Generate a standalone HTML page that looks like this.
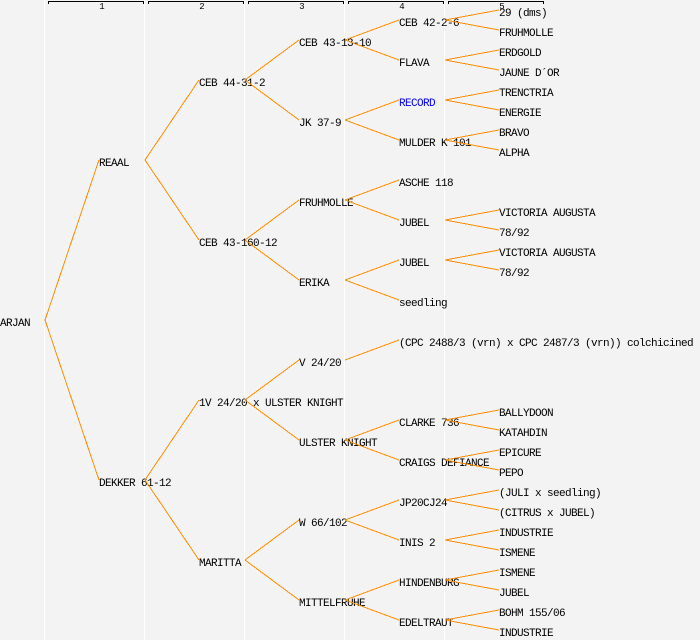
<!DOCTYPE html>
<html><head><meta charset="utf-8"><style>
html,body{margin:0;padding:0;background:#f3f3f3;}
svg{display:block;}
text{font-family:"Liberation Mono","DejaVu Sans Mono",monospace;font-size:11px;letter-spacing:-0.6px;fill:#000;}
text.n{font-size:9px;letter-spacing:0;}
</style></head><body>
<svg width="700" height="640" viewBox="0 0 700 640" xmlns="http://www.w3.org/2000/svg">
<rect x="0" y="0" width="700" height="640" fill="#f3f3f3"/>
<g fill="#ffffff">
<rect x="44" y="0" width="1" height="640"/>
<rect x="144" y="0" width="1" height="640"/>
<rect x="244" y="0" width="1" height="640"/>
<rect x="344" y="0" width="1" height="640"/>
<rect x="444" y="0" width="1" height="640"/>
</g>
<g stroke="#000" stroke-width="1" fill="none" shape-rendering="crispEdges">
<path d="M48.5 4V1.5H143.5V4"/>
<path d="M148.5 4V1.5H243.5V4"/>
<path d="M248.5 4V1.5H343.5V4"/>
<path d="M348.5 4V1.5H443.5V4"/>
<path d="M448.5 4V1.5H543.5V4"/>
</g>
<g text-anchor="middle">
<text class="n" x="102" y="9">1</text>
<text class="n" x="202" y="9">2</text>
<text class="n" x="302" y="9">3</text>
<text class="n" x="402" y="9">4</text>
<text class="n" x="502" y="9">5</text>
</g>

<!-- gen 0 -->
<text x="0" y="326">ARJAN</text>
<!-- gen 1 -->
<text x="99" y="166">REAAL</text>
<text x="99" y="486">DEKKER 61-12</text>
<!-- gen 2 -->
<text x="199" y="86">CEB 44-31-2</text>
<text x="199" y="246">CEB 43-160-12</text>
<text x="199" y="406">1V 24/20 x ULSTER KNIGHT</text>
<text x="199" y="566">MARITTA</text>
<!-- gen 3 -->
<text x="299" y="46">CEB 43-13-10</text>
<text x="299" y="126">JK 37-9</text>
<text x="299" y="206">FRUHMOLLE</text>
<text x="299" y="286">ERIKA</text>
<text x="299" y="366">V 24/20</text>
<text x="299" y="446">ULSTER KNIGHT</text>
<text x="299" y="526">W 66/102</text>
<text x="299" y="606">MITTELFRUHE</text>
<!-- gen 4 -->
<text x="399" y="26">CEB 42-2-6</text>
<text x="399" y="66">FLAVA</text>
<text x="399" y="106" style="fill:#0000ff">RECORD</text>
<text x="399" y="146">MULDER K 101</text>
<text x="399" y="186">ASCHE 118</text>
<text x="399" y="226">JUBEL</text>
<text x="399" y="266">JUBEL</text>
<text x="399" y="306">seedling</text>
<text x="399" y="346">(CPC 2488/3 (vrn) x CPC 2487/3 (vrn)) colchicined</text>
<text x="399" y="426">CLARKE 736</text>
<text x="399" y="466">CRAIGS DEFIANCE</text>
<text x="399" y="506">JP20CJ24</text>
<text x="399" y="546">INIS 2</text>
<text x="399" y="586">HINDENBURG</text>
<text x="399" y="626">EDELTRAUT</text>
<!-- gen 5 -->
<text x="499" y="16">29 (dms)</text>
<text x="499" y="36">FRUHMOLLE</text>
<text x="499" y="56">ERDGOLD</text>
<text x="499" y="76">JAUNE D´OR</text>
<text x="499" y="96">TRENCTRIA</text>
<text x="499" y="116">ENERGIE</text>
<text x="499" y="136">BRAVO</text>
<text x="499" y="156">ALPHA</text>
<text x="499" y="216">VICTORIA AUGUSTA</text>
<text x="499" y="236">78/92</text>
<text x="499" y="256">VICTORIA AUGUSTA</text>
<text x="499" y="276">78/92</text>
<text x="499" y="416">BALLYDOON</text>
<text x="499" y="436">KATAHDIN</text>
<text x="499" y="456">EPICURE</text>
<text x="499" y="476">PEPO</text>
<text x="499" y="496">(JULI x seedling)</text>
<text x="499" y="516">(CITRUS x JUBEL)</text>
<text x="499" y="536">INDUSTRIE</text>
<text x="499" y="556">ISMENE</text>
<text x="499" y="576">ISMENE</text>
<text x="499" y="596">JUBEL</text>
<text x="499" y="616">BOHM 155/06</text>
<text x="499" y="636">INDUSTRIE</text>

<g stroke="#ff8c00" stroke-width="1" fill="none" shape-rendering="crispEdges">
<!-- gen0 -> gen1 -->
<line x1="45" y1="320" x2="99" y2="160"/>
<line x1="45" y1="320" x2="99" y2="480"/>
<!-- gen1 -> gen2 -->
<line x1="145" y1="160" x2="199" y2="80"/>
<line x1="145" y1="160" x2="199" y2="240"/>
<line x1="145" y1="480" x2="199" y2="400"/>
<line x1="145" y1="480" x2="199" y2="560"/>
<!-- gen2 -> gen3 -->
<line x1="245" y1="80" x2="299" y2="40"/>
<line x1="245" y1="80" x2="299" y2="120"/>
<line x1="245" y1="240" x2="299" y2="200"/>
<line x1="245" y1="240" x2="299" y2="280"/>
<line x1="245" y1="400" x2="299" y2="360"/>
<line x1="245" y1="400" x2="299" y2="440"/>
<line x1="245" y1="560" x2="299" y2="520"/>
<line x1="245" y1="560" x2="299" y2="600"/>
<!-- gen3 -> gen4 -->
<line x1="345" y1="40" x2="399" y2="20"/>
<line x1="345" y1="40" x2="399" y2="60"/>
<line x1="345" y1="120" x2="399" y2="100"/>
<line x1="345" y1="120" x2="399" y2="140"/>
<line x1="345" y1="200" x2="399" y2="180"/>
<line x1="345" y1="200" x2="399" y2="220"/>
<line x1="345" y1="280" x2="399" y2="260"/>
<line x1="345" y1="280" x2="399" y2="300"/>
<line x1="345" y1="360" x2="399" y2="340"/>
<line x1="345" y1="440" x2="399" y2="420"/>
<line x1="345" y1="440" x2="399" y2="460"/>
<line x1="345" y1="520" x2="399" y2="500"/>
<line x1="345" y1="520" x2="399" y2="540"/>
<line x1="345" y1="600" x2="399" y2="580"/>
<line x1="345" y1="600" x2="399" y2="620"/>
<!-- gen4 -> gen5 -->
<line x1="445" y1="20" x2="499" y2="10"/>
<line x1="445" y1="20" x2="499" y2="30"/>
<line x1="445" y1="60" x2="499" y2="50"/>
<line x1="445" y1="60" x2="499" y2="70"/>
<line x1="445" y1="100" x2="499" y2="90"/>
<line x1="445" y1="100" x2="499" y2="110"/>
<line x1="445" y1="140" x2="499" y2="130"/>
<line x1="445" y1="140" x2="499" y2="150"/>
<line x1="445" y1="220" x2="499" y2="210"/>
<line x1="445" y1="220" x2="499" y2="230"/>
<line x1="445" y1="260" x2="499" y2="250"/>
<line x1="445" y1="260" x2="499" y2="270"/>
<line x1="445" y1="420" x2="499" y2="410"/>
<line x1="445" y1="420" x2="499" y2="430"/>
<line x1="445" y1="460" x2="499" y2="450"/>
<line x1="445" y1="460" x2="499" y2="470"/>
<line x1="445" y1="500" x2="499" y2="490"/>
<line x1="445" y1="500" x2="499" y2="510"/>
<line x1="445" y1="540" x2="499" y2="530"/>
<line x1="445" y1="540" x2="499" y2="550"/>
<line x1="445" y1="580" x2="499" y2="570"/>
<line x1="445" y1="580" x2="499" y2="590"/>
<line x1="445" y1="620" x2="499" y2="610"/>
<line x1="445" y1="620" x2="499" y2="630"/>
</g>
</svg>
</body></html>
